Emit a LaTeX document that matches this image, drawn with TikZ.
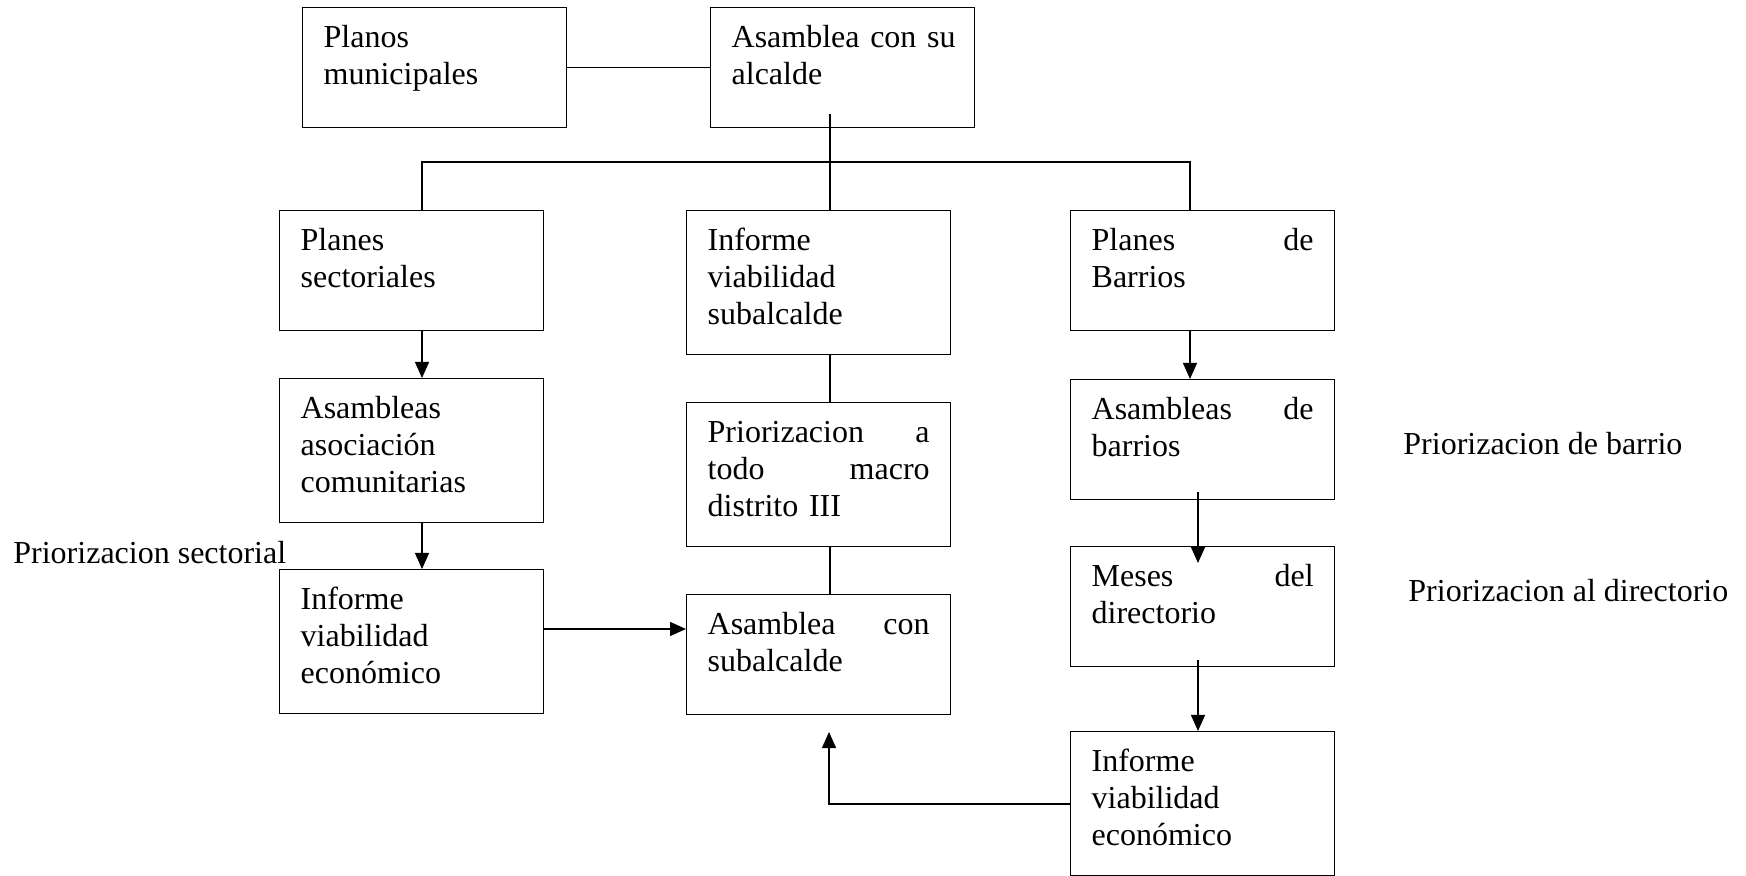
\documentclass[tikz,border=0pt]{standalone}
\usepackage{fontspec}
\setmainfont{Liberation Serif}
\usetikzlibrary{arrows.meta}
\newcommand{\spr}{\hskip 0pt plus 1fill\relax}
\begin{document}
\begin{tikzpicture}[x=0.5pt,y=-0.5pt,
  box/.style={draw, line width=0.65pt, anchor=north west, inner xsep=10.5pt, inner ysep=0pt,
    text width=111pt, align=left, text height=20pt, font=\fontsize{16pt}{18.5pt}\selectfont},
  two/.style={text depth=40pt},
  three/.style={text depth=52pt},
  ln/.style={line width=0.65pt},
  arr/.style={ln, -{Triangle[length=8pt,width=7pt]}},
  lbl/.style={anchor=base west, inner sep=0pt, font=\fontsize{16pt}{18.5pt}\selectfont}]
\useasboundingbox (0,0) rectangle (1746,876);
% boxes
\node[box,two]   (planos)  at (302,7)    {Planos\\municipales};
\node[box,two]   (alcalde) at (710,7)    {\mbox{Asamblea con su}\\alcalde};
\node[box,two]   (psect)   at (279,210)  {Planes\\sectoriales};
\node[box,three] (infsub)  at (686,210)  {Informe\\viabilidad\\subalcalde};
\node[box,two]   (pbarr)   at (1070,210) {Planes\spr de\\Barrios};
\node[box,three] (asoc)    at (279,378)  {Asambleas\\asociación\\comunitarias};
\node[box,three] (prior)   at (686,402)  {Priorizacion\spr a\\todo\spr macro\\distrito III};
\node[box,two]   (abarr)   at (1070,379) {Asambleas\spr de\\barrios};
\node[box,three] (infL)    at (279,569)  {Informe\\viabilidad\\económico};
\node[box,two]   (asub)    at (686,594)  {Asamblea\spr con\\subalcalde};
\node[box,two]   (meses)   at (1070,546) {Meses\spr del\\directorio};
\node[box,three] (infR)    at (1070,731) {Informe\\viabilidad\\económico};
% free labels
\node[lbl] (ls) at (13,564)   {Priorizacion sectorial};
\node[lbl] (lb) at (1403,455) {Priorizacion de barrio};
\node[lbl] (ld) at (1408,602) {Priorizacion al directorio};
% helper coordinates
\coordinate (xA) at (422,0);
\coordinate (xM) at (830,0);
\coordinate (xB) at (1190,0);
\coordinate (xR) at (1198,0);
\coordinate (bus) at (0,162);
\coordinate (topM) at (830,114);
\coordinate (yA) at (0,629);
\coordinate (yF) at (0,804);
\coordinate (s1) at (1198,492);
\coordinate (t1) at (1198,563);
\coordinate (s2) at (1198,660);
\coordinate (t2) at (829,732);
% connectors
\draw[ln] (planos.east) -- (alcalde.west);
\draw[ln] (topM) -- (infsub.north -| xM);
\draw[ln] (psect.north -| xA) -- (xA |- bus) -- (xB |- bus) -- (pbarr.north -| xB);
\draw[arr] (psect.south -| xA) -- (asoc.north -| xA);
\draw[arr] (asoc.south -| xA) -- (infL.north -| xA);
\draw[ln] (infsub.south -| xM) -- (prior.north -| xM);
\draw[ln] (prior.south -| xM) -- (asub.north -| xM);
\draw[arr] (infL.east |- yA) -- (asub.west |- yA);
\draw[arr] (pbarr.south -| xB) -- (abarr.north -| xB);
\draw[arr] (s1) -- (t1);
\draw[arr] (s2) -- (infR.north -| xR);
\draw[arr] (infR.west |- yF) -| (t2);
\end{tikzpicture}
\end{document}
